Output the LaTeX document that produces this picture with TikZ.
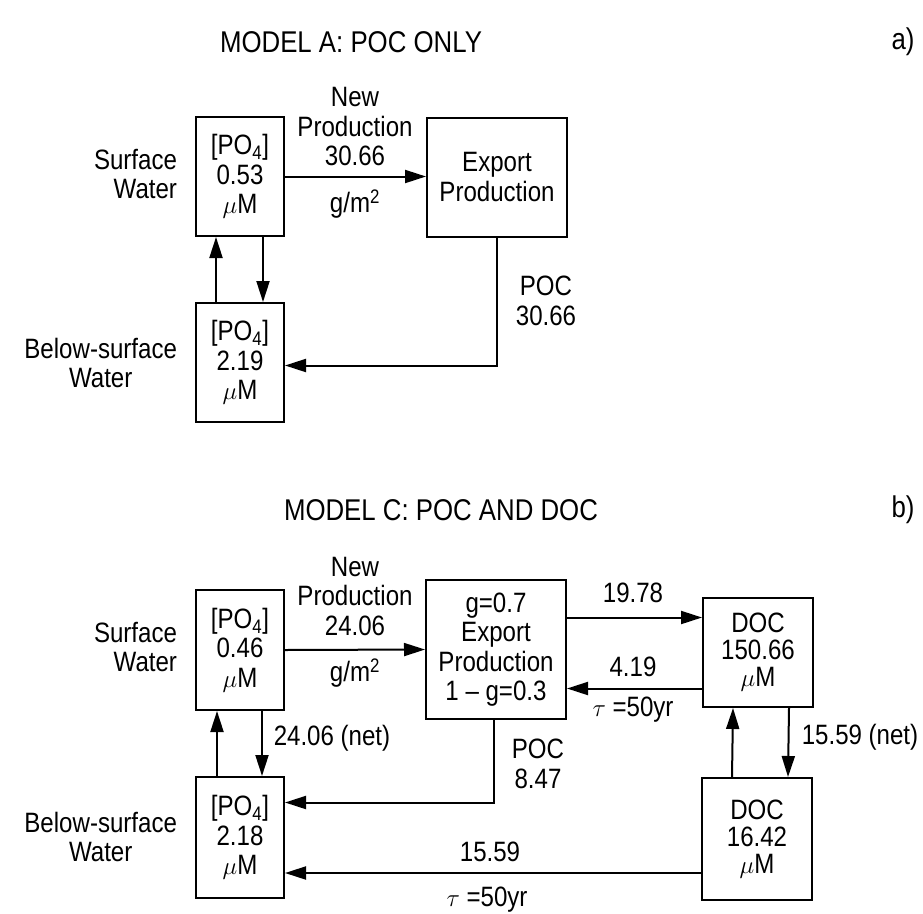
\documentclass[tikz,border=0pt]{standalone}
\usepackage{fontspec}
\setmainfont[FakeStretch=0.86]{Liberation Sans}
\usetikzlibrary{arrows.meta}

\begin{document}
\begin{tikzpicture}[
    x=1pt, y=-1pt,
    line width=2pt,
    every node/.style={font=\fontsize{28}{29.5}\selectfont, inner sep=0pt, align=center},
    box/.style={draw, minimum width=88pt, minimum height=119pt},
    docbox/.style={draw, minimum width=110pt},
    title/.style={font=\fontsize{30}{32}\selectfont},
    arrow/.style={-{Triangle[length=21pt,width=13pt]}}
]
\useasboundingbox (0,0) rectangle (923,913);

% ---- a) model A
\node[title] (titleA) at (351,42) {MODEL A: POC ONLY};
\node[title] (tagA) at (903,42) {a)};

\node[box] (surfA) at (240,176.5) {[PO\textsubscript{4}]\\0.53\\$\mu$M};
\node[box, minimum width=140pt] (expA) at (497,177) {Export\\Production};
\node[box] (belowA) at (240,362.5) {[PO\textsubscript{4}]\\2.19\\$\mu$M};

\node[align=right, anchor=east] (surfLabA) at (178,174) {Surface\\Water};
\node[align=center, anchor=east] (belowLabA) at (178,363) {Below-surface\\Water};
\node (newA) at (355,127) {New\\Production\\30.66};
\node (unitA) at (355,204) {g/m\textsuperscript{2}};
\node (pocA) at (546,301) {POC\\30.66};

\draw[arrow] (surfA.east) -- (surfA.east -| expA.west);
\draw[arrow] ([xshift=-24pt]belowA.north) -- ([xshift=-24pt]surfA.south);
\draw[arrow] ([xshift=23pt]surfA.south) -- ([xshift=23pt]belowA.north);
\draw[arrow] (expA.south) |- ([yshift=-3pt]belowA.east);

% ---- b) model C
\node[title] (titleB) at (441,510) {MODEL C: POC AND DOC};
\node[title] (tagB) at (903,510) {b)};

\node[box, minimum height=120pt] (surfB) at (240,650) {[PO\textsubscript{4}]\\0.46\\$\mu$M};
\node[box, minimum width=140pt, minimum height=139pt] (expB) at (496,649.5) {g=0.7\\Export\\Production\\1 -- g=0.3};
\node[box, minimum height=121pt] (belowB) at (240,837.5) {[PO\textsubscript{4}]\\2.18\\$\mu$M};
\node[docbox, minimum height=109pt, font=\fontsize{28}{27}\selectfont] (docU) at (758,652.5) {DOC\\150.66\\$\mu$M};
\node[docbox, minimum height=122pt, font=\fontsize{28}{27}\selectfont] (docL) at (757,839) {DOC\\16.42\\$\mu$M};

\node[align=right, anchor=east] (surfLabB) at (178,647) {Surface\\Water};
\node[align=center, anchor=east] (belowLabB) at (178,837) {Below-surface\\Water};
\node (newB) at (355,596) {New\\Production\\24.06};
\node (unitB) at (355,673) {g/m\textsuperscript{2}};
\node (netB) at (332,738) {24.06 (net)};
\node (pocB) at (538,764) {POC\\8.47};
\node (toDocB) at (633,593) {19.78};
\node (fromDocB) at (633,667) {4.19};
\node (tauB) at (633,710) {$\tau$ =50yr};
\node (netDocB) at (860,737) {15.59 (net)};
\node (deepB) at (490,852) {15.59};
\node (tauDeepB) at (487,900) {$\tau$ =50yr};

\draw[arrow] (surfB.east) -- (expB.west);
\draw[arrow] ([yshift=32pt]expB.east) -- ([yshift=32pt]expB.east -| docU.west);
\draw[arrow] ([yshift=-36pt]docU.west) -- ([yshift=-36pt]docU.west -| expB.east);
\draw[arrow] ([xshift=-23pt]belowB.north) -- ([xshift=-23pt]surfB.south);
\draw[arrow] ([xshift=22pt]surfB.south) -- ([xshift=22pt]belowB.north);
\draw[arrow] ([xshift=-25pt]docL.north) -- ([xshift=-25pt]docU.south);
\draw[arrow] ([xshift=31pt]docU.south) -- ([xshift=31pt]docL.north);
\draw[arrow] ([xshift=-2pt]expB.south) |- ([yshift=35pt]belowB.east);
\draw[arrow] ([yshift=-34pt]docL.west) -- ([yshift=-34pt]docL.west -| belowB.east);
\end{tikzpicture}
\end{document}
